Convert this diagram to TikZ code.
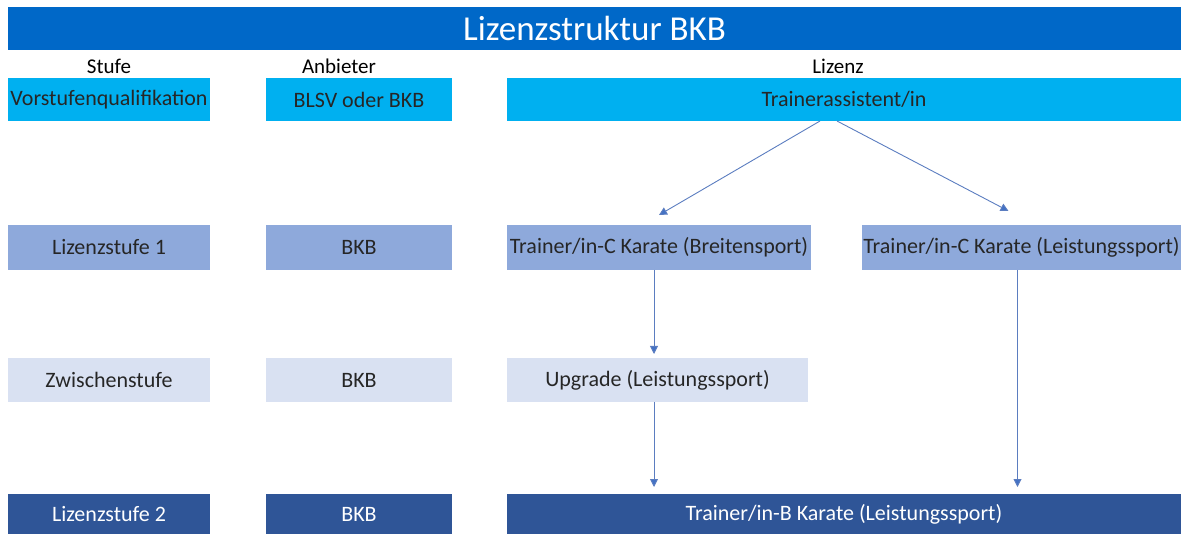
\documentclass[tikz,border=0pt]{standalone}
\usepackage{fontspec}
\setmainfont{Carlito}
\usetikzlibrary{arrows.meta,calc}
\definecolor{titlebg}{HTML}{0068C8}
\definecolor{rowA}{HTML}{00B0F0}
\definecolor{rowB}{HTML}{8EA9DB}
\definecolor{rowC}{HTML}{D9E1F2}
\definecolor{rowD}{HTML}{2F5597}
\definecolor{arrline}{HTML}{5B7DC0}
\definecolor{arrtip}{HTML}{4472C4}
\tikzset{
  cell/.style={anchor=north west, inner sep=0pt, outer sep=0pt, text=black!85,
    font=\fontsize{22}{26}\selectfont},
  hdr/.style={inner sep=0pt, font=\fontsize{21}{25}\selectfont, text=black},
  arr/.style={draw=arrline, line width=0.9pt, -{Triangle[width=8pt,length=8pt,fill=arrtip]}}
}
\begin{document}
\begin{tikzpicture}[x=1pt,y=-1pt]
\useasboundingbox (0,0) rectangle (1181,534);
% title
\node[cell, fill=titlebg, minimum width=1173pt, minimum height=43pt, text=white,
  font=\fontsize{35}{40}\selectfont] (title) at (8,7) {Lizenzstruktur BKB};
% headers
\node[hdr] (h1) at (109,66) {Stufe};
\node[hdr] (h2) at (339,66) {Anbieter};
\node[hdr] (h3) at (838,66) {Lizenz};
% row 1
\node[cell, fill=rowA, minimum width=202pt, minimum height=43pt] (r1a) at (8,78) {Vorstufenqualifikation};
\node[cell, fill=rowA, minimum width=186pt, minimum height=43pt] (r1b) at (266,78) {BLSV oder BKB};
\node[cell, fill=rowA, minimum width=674pt, minimum height=43pt] (ta) at (507,78) {Trainerassistent/in};
% row 2
\node[cell, fill=rowB, minimum width=202pt, minimum height=45pt] (r2a) at (8,225) {Lizenzstufe 1};
\node[cell, fill=rowB, minimum width=186pt, minimum height=45pt] (r2b) at (266,225) {BKB};
\node[cell, fill=rowB, minimum width=304pt, minimum height=45pt] (bc) at (507,225) {Trainer/in-C Karate (Breitensport)};
\node[cell, fill=rowB, minimum width=319pt, minimum height=45pt] (lc) at (862,225) {Trainer/in-C Karate (Leistungssport)};
% row 3
\node[cell, fill=rowC, minimum width=202pt, minimum height=44pt] (r3a) at (8,358) {Zwischenstufe};
\node[cell, fill=rowC, minimum width=186pt, minimum height=44pt] (r3b) at (266,358) {BKB};
\node[cell, fill=rowC, minimum width=301pt, minimum height=44pt] (up) at (507,358) {Upgrade (Leistungssport)};
% row 4
\node[cell, fill=rowD, text=white, minimum width=202pt, minimum height=40pt] (r4a) at (8,494) {Lizenzstufe 2};
\node[cell, fill=rowD, text=white, minimum width=186pt, minimum height=40pt] (r4b) at (266,494) {BKB};
\node[cell, fill=rowD, text=white, minimum width=674pt, minimum height=40pt] (bb) at (507,494) {Trainer/in-B Karate (Leistungssport)};
% arrows
\draw[arr] ($(ta.south)+(-24,0)$) -- ($(bc.north)+(0,-10)$);
\draw[arr] ($(ta.south)+(-7,0)$) -- ($(lc.north)+(-13,-14)$);
\draw[arr] ($(bc.south)+(-5,0)$) -- ($(bc.south |- up.north)+(-5,-4)$);
\draw[arr] ($(bc.south |- up.south)+(-5,0)$) -- ($(bc.south |- bb.north)+(-5,-7)$);
\draw[arr] ($(lc.south)+(-4,0)$) -- ($(lc.south |- bb.north)+(-4,-7)$);
\end{tikzpicture}
\end{document}
